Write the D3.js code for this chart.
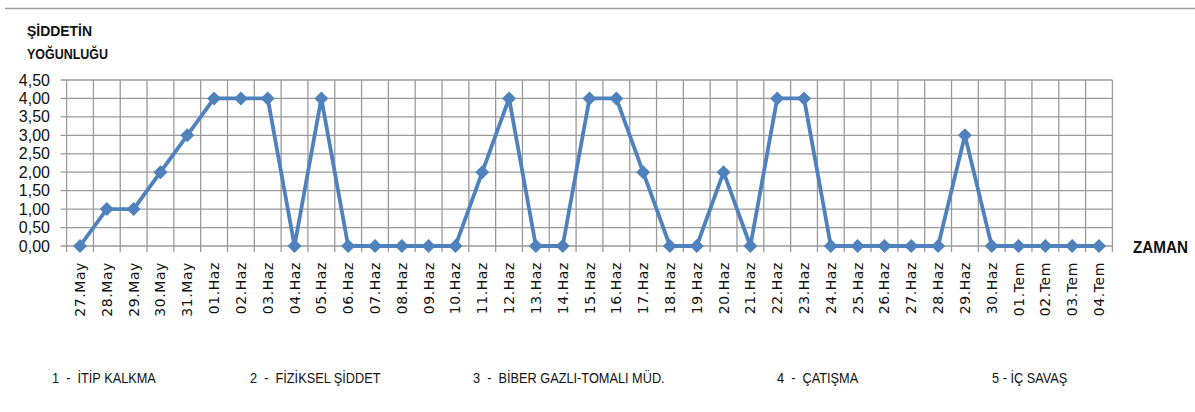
<!DOCTYPE html>
<html><head><meta charset="utf-8">
<script src="https://cdn.jsdelivr.net/npm/d3@7/dist/d3.min.js"></script>
<style>body{margin:0;background:#fff}svg{display:block}</style>
</head><body>
<svg id="c" width="1195" height="412"></svg>
<script>
const categories = ["27.May","28.May","29.May","30.May","31.May",
 "01.Haz","02.Haz","03.Haz","04.Haz","05.Haz","06.Haz","07.Haz","08.Haz","09.Haz","10.Haz",
 "11.Haz","12.Haz","13.Haz","14.Haz","15.Haz","16.Haz","17.Haz","18.Haz","19.Haz","20.Haz",
 "21.Haz","22.Haz","23.Haz","24.Haz","25.Haz","26.Haz","27.Haz","28.Haz","29.Haz","30.Haz",
 "01.Tem","02.Tem","03.Tem","04.Tem"];
const values = [0,1,1,2,3, 4,4,4,0,4,0,0,0,0,0, 2,4,0,0,4,4,2,0,0,2, 0,4,4,0,0,0,0,0,3,0, 0,0,0,0];
const yTicks = [0,0.5,1,1.5,2,2.5,3,3.5,4,4.5];
const yTickLabels = ["0,00","0,50","1,00","1,50","2,00","2,50","3,00","3,50","4,00","4,50"];
const legendItems = ["1  -  İTİP KALKMA","2  -  FİZİKSEL ŞİDDET","3  -  BİBER GAZLI-TOMALI MÜD.","4  -  ÇATIŞMA","5 - İÇ SAVAŞ"];
const legendX = [52,250,473,777,992];

const svg = d3.select("#c");
const L = 66.6, R = 1112.4, T = 80, B = 246;
const x = d3.scaleBand().domain(categories).range([L,R]).padding(0);
const y = d3.scaleLinear().domain([0,4.5]).range([B,T]);
const grid = "#9a9a9a";
const ff = "Liberation Sans, Arial, sans-serif";

// top rule
svg.append("line").attr("x1",5).attr("x2",1195).attr("y1",8.5).attr("y2",8.5).attr("stroke","#a0a0a0").attr("stroke-width",1.5);

// horizontal grid
svg.append("g").selectAll("line").data(yTicks).join("line")
  .attr("x1",L-6).attr("x2",R).attr("y1",d=>y(d)).attr("y2",d=>y(d))
  .attr("stroke",grid).attr("stroke-width",1.3);
// vertical grid (band boundaries)
const bounds = categories.map(c=>x(c)).concat([R]);
svg.append("g").selectAll("line").data(bounds).join("line")
  .attr("x1",d=>d).attr("x2",d=>d).attr("y1",T).attr("y2",B+6)
  .attr("stroke",grid).attr("stroke-width",1.3);

// y labels
svg.append("g").selectAll("text").data(yTicks).join("text")
  .attr("x",50).attr("y",d=>y(d)+5.5).attr("text-anchor","end")
  .attr("font-family",ff).attr("font-size",16)
  .attr("fill","#111").text((d,i)=>yTickLabels[i]);

// x labels
svg.append("g").selectAll("text").data(categories).join("text")
  .attr("transform",d=>`translate(${x(d)+x.bandwidth()/2+5},262) rotate(-90)`)
  .attr("text-anchor","end")
  .attr("font-family","DejaVu Sans, Verdana, sans-serif").attr("font-size",14).attr("letter-spacing",0.6)
  .attr("fill","#111").text(d=>d);

// line
const cx = d=>x(d)+x.bandwidth()/2;
const line = d3.line().x((d,i)=>cx(categories[i])).y(d=>y(d));
svg.append("path").datum(values).attr("d",line).attr("fill","none")
  .attr("stroke","#4f81bd").attr("stroke-width",3.8).attr("stroke-linejoin","round");
svg.append("g").selectAll("path").data(values).join("path")
  .attr("d",d3.symbol().type(d3.symbolDiamond2).size(125))
  .attr("transform",(d,i)=>`translate(${cx(categories[i])},${y(d)})`)
  .attr("fill","#4f81bd");

// titles (condensed)
function narrow(txt, x0, y0, size, len){
  svg.append("text").attr("x",x0).attr("y",y0).attr("font-size",size).attr("font-family",ff)
    .attr("font-weight","bold").attr("fill","#111")
    .attr("textLength",len).attr("lengthAdjust","spacingAndGlyphs").text(txt);
}
narrow("ŞİDDETİN",27,36,14.5,65);
narrow("YOĞUNLUĞU",27,59,14.5,81);
narrow("ZAMAN",1133,253,17,55);

// legend captions
svg.append("g").selectAll("text").data(legendItems).join("text")
  .attr("x",(d,i)=>legendX[i]).attr("y",383)
  .attr("font-family",ff).attr("font-size",14.5)
  .attr("fill","#111").style("white-space","pre").attr("transform",(d,i)=>`translate(${legendX[i]*0.12},0) scale(0.88,1)`).text(d=>d);
</script>
</body></html>
